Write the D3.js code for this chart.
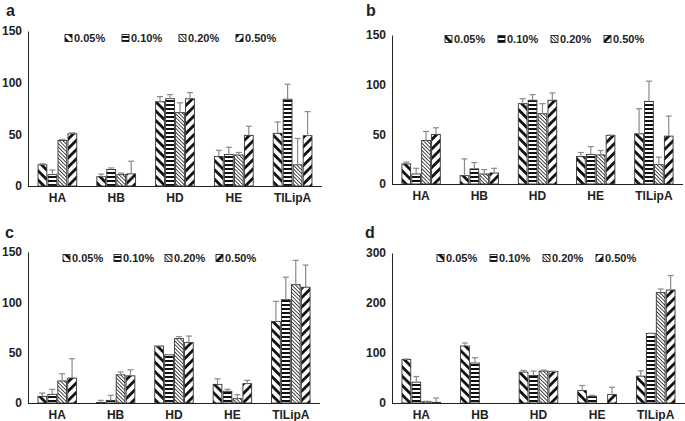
<!DOCTYPE html>
<html>
<head>
<meta charset="utf-8">
<script src="https://cdn.jsdelivr.net/npm/d3@7"></script>
<style>
  body { margin: 0; background: #fff; }
  svg text { font-family: "Liberation Sans", Arial, sans-serif; font-weight: bold; fill: #222; }
</style>
</head>
<body>
<div id="chart"></div>
<script>
// categories and series
var categories = ["HA", "HB", "HD", "HE", "TlLipA"];
var seriesNames = ["0.05%", "0.10%", "0.20%", "0.50%"];

// panel a  (rows = series, cols = categories)
var aMean = [[20.5, 9, 81.5, 28.5, 51], [11, 16, 84.5, 30.5, 84], [44, 11, 71, 30, 20.5], [50.5, 11.7, 84.4, 49, 48.7]];
var aErr  = [[1, 2.5, 5, 6, 11], [4.5, 1.5, 4, 7, 14.5], [1, 1.5, 9.5, 2.5, 25.5], [1, 12.3, 6, 8.8, 23.3]];
var aTicks = [0, 50, 100, 150];

// panel b
var bMean = [[20.2, 8.4, 80.9, 27.6, 50.5], [10.1, 15.2, 84.3, 29.7, 83.2], [43.8, 10.1, 70.8, 29.3, 19.5], [49.9, 11.1, 84.3, 48.9, 48.2]];
var bErr  = [[1.8, 16.9, 5, 4.1, 25.3], [5.7, 6.4, 5.7, 8, 20.3], [9.1, 4.4, 10.1, 4.4, 7.5], [6.7, 4.7, 7.4, 0.3, 20.2]];
var bTicks = [0, 50, 100, 150];

// panel c
var cMean = [[6.6, 0.5, 56.6, 18.5, 81], [8.6, 2.6, 48, 11.6, 102.6], [21.9, 28, 64, 4.3, 117.5], [24.8, 27, 60, 19.2, 115]];
var cErr  = [[3.3, 2.1, 0, 5.5, 20], [5, 5, 0, 2, 22.4], [7.1, 2.8, 2, 4, 24.2], [19.2, 6, 6.5, 3.3, 22]];
var cTicks = [0, 50, 100, 150];

// panel d
var dMean = [[87, 114, 61.7, 24.8, 53.7], [41.6, 80, 55, 13.4, 139], [2.7, 0, 63.8, 0, 220.8], [1.3, 0, 63, 16.8, 226]];
var dErr  = [[1, 6, 3.3, 10.2, 10.7], [11.4, 10.6, 8.8, 2, 0.6], [0.7, 0, 2, 0, 7.2], [8.7, 0, 0.5, 14.7, 29]];
var dTicks = [0, 100, 200, 300];

var svg = d3.select("#chart").append("svg")
    .attr("width", 685)
    .attr("height", 421);

// hatch patterns
var defs = svg.append("defs");
function hatch(id, size, thick, angle) {
    var p = defs.append("pattern")
        .attr("id", id)
        .attr("patternUnits", "userSpaceOnUse")
        .attr("width", size)
        .attr("height", size)
        .attr("patternTransform", "rotate(" + angle + ")");
    p.append("rect").attr("width", size).attr("height", size).attr("fill", "#fff");
    p.append("rect").attr("width", size).attr("height", thick).attr("fill", "#111");
}
hatch("p0", 6.6, 2.8, 45);
hatch("p1", 4, 2, 0);
hatch("p2", 2.6, 0.75, 45);
hatch("p3", 6.6, 2.8, -45);
var fills = ["url(#p0)", "url(#p1)", "url(#p2)", "url(#p3)"];

function drawPanel(opt) {
    var g = svg.append("g");

    var x = d3.scaleBand().domain(categories).range([opt.x0, opt.x1]).paddingInner(0.3).paddingOuter(0.15);
    var xs = d3.scaleBand().domain(d3.range(seriesNames.length)).range([0, x.bandwidth()]).padding(0.12);
    var y = d3.scaleLinear().domain([0, opt.ticks[opt.ticks.length - 1]]).range([opt.y0, opt.yTop]);

    // panel letter
    g.append("text")
        .attr("x", opt.lx).attr("y", opt.ly)
        .attr("font-size", 16)
        .text(opt.letter);

    // y axis
    var yAxis = d3.axisLeft(y).tickValues(opt.ticks).tickSize(0).tickPadding(6);
    var ya = g.append("g").attr("transform", `translate(${opt.x0},0)`).call(yAxis);
    ya.select(".domain").attr("stroke", "#222").attr("stroke-width", 1);
    ya.selectAll("text").attr("font-size", 12).attr("fill", "#222").attr("font-family", null);

    // bars
    opt.mean.forEach(function(row, s) {
        var bars = g.append("g");
        bars.selectAll("rect")
            .data(row)
            .enter()
            .append("rect")
            .attr("x", (d, i) => x(categories[i]) + xs(s))
            .attr("y", d => y(d))
            .attr("width", xs.bandwidth())
            .attr("height", d => opt.y0 - y(d))
            .attr("fill", fills[s])
            .attr("stroke", d => d > 0 ? "#333" : "none")
            .attr("stroke-width", 0.9);

        // error bars (upward only)
        var eg = g.append("g").attr("stroke", "#8a8a8a").attr("stroke-width", 1.2);
        row.forEach(function(d, i) {
            var e = opt.err[s][i];
            if (d <= 0 && e <= 0) return;
            var cx = x(categories[i]) + xs(s) + xs.bandwidth() / 2;
            eg.append("line").attr("x1", cx).attr("x2", cx).attr("y1", y(d)).attr("y2", y(d + e));
            eg.append("line").attr("x1", cx - 3).attr("x2", cx + 3).attr("y1", y(d + e)).attr("y2", y(d + e));
        });
    });

    // x axis
    var xAxis = d3.axisBottom(x).tickSize(0).tickPadding(7);
    var xa = g.append("g").attr("transform", `translate(0,${opt.y0})`).call(xAxis);
    xa.select(".domain").attr("d", `M${opt.x0},0.5H${opt.x1}`).attr("stroke", "#222").attr("stroke-width", 1);
    xa.selectAll("text").attr("font-size", 12).attr("fill", "#222").attr("font-family", null);

    // legend
    var lg = g.append("g");
    seriesNames.forEach(function(name, s) {
        var lx = opt.legX + s * opt.legStep;
        lg.append("rect")
            .attr("x", lx).attr("y", opt.legY - 3.5)
            .attr("width", 7).attr("height", 7)
            .attr("fill", fills[s])
            .attr("stroke", "#222").attr("stroke-width", 0.9);
        lg.append("text")
            .attr("x", lx + 9).attr("y", opt.legY)
            .attr("dy", "0.35em")
            .attr("font-size", 11)
            .text(name);
    });
}

drawPanel({letter: "a", lx: 6, ly: 16, x0: 28, x1: 322, y0: 186, yTop: 31, ticks: aTicks, mean: aMean, err: aErr, legX: 65, legY: 38, legStep: 57});
drawPanel({letter: "b", lx: 366, ly: 16, x0: 392, x1: 683, y0: 184, yTop: 35, ticks: bTicks, mean: bMean, err: bErr, legX: 445, legY: 39, legStep: 53});
drawPanel({letter: "c", lx: 5, ly: 238, x0: 28, x1: 320, y0: 403, yTop: 252, ticks: cTicks, mean: cMean, err: cErr, legX: 63, legY: 258, legStep: 51});
drawPanel({letter: "d", lx: 365, ly: 238, x0: 392, x1: 685, y0: 403, yTop: 253, ticks: dTicks, mean: dMean, err: dErr, legX: 437, legY: 258, legStep: 53});
</script>
</body>
</html>
